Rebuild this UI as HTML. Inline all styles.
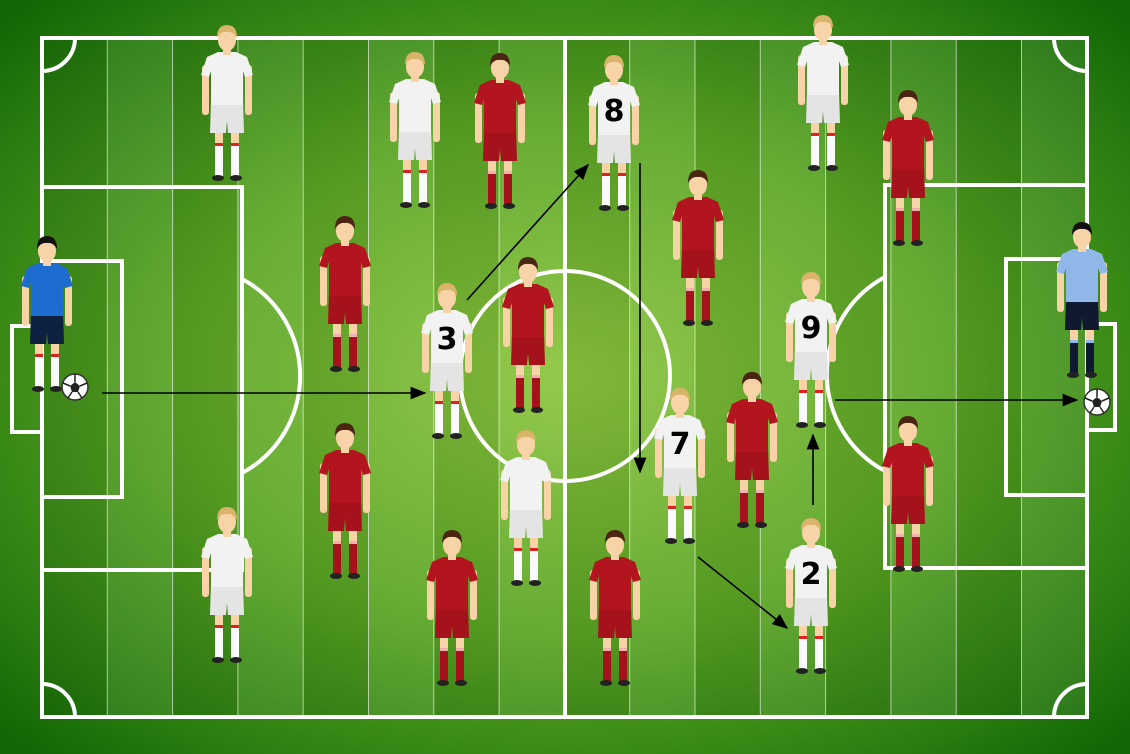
<!DOCTYPE html>
<html><head><meta charset="utf-8"><style>
html,body{margin:0;padding:0;background:#1a6b0a}
svg{display:block}
text{font-family:"DejaVu Sans","Liberation Sans",sans-serif;font-weight:bold}
</style></head><body>
<svg id="s" width="1130" height="754" viewBox="0 0 1130 754">
<defs>
<radialGradient id="bg" cx="50%" cy="50%" r="68%">
<stop offset="0" stop-color="#8cc63f"/><stop offset="0.5" stop-color="#5aa524"/><stop offset="0.85" stop-color="#2a7c10"/><stop offset="1" stop-color="#136805"/>
</radialGradient>
<marker id="ah" markerWidth="10" markerHeight="8" refX="9" refY="4" orient="auto"><path d="M0,0 L10,4 L0,8 z" fill="#000"/></marker>
</defs>
<rect x="0" y="0" width="1130" height="754" fill="url(#bg)"/>
<g id="stripes"></g>
<g fill="none" stroke="#fff" stroke-width="4">
<rect x="42" y="38" width="1045" height="679"/>
<line x1="565" y1="38" x2="565" y2="717"/>
<circle cx="565" cy="376" r="105"/>
<rect x="42" y="187" width="200" height="383"/>
<rect x="42" y="261" width="80" height="236"/>
<rect x="12" y="326" width="30" height="106"/>
<path d="M242,279 A110,110 0 0 1 242,473"/>
<rect x="885" y="185" width="202" height="383"/>
<rect x="1006" y="259" width="81" height="236"/>
<rect x="1087" y="324" width="28" height="106"/>
<path d="M885,277 A110,110 0 0 0 885,471"/>
<path d="M42,71 A33,33 0 0 0 75,38"/>
<path d="M1054,38 A33,33 0 0 0 1087,71"/>
<path d="M42,684 A33,33 0 0 1 75,717"/>
<path d="M1054,717 A33,33 0 0 1 1087,684"/>
</g>
<g id="arrows" stroke="#000" stroke-width="1.6">
<line x1="102" y1="393" x2="425" y2="393" marker-end="url(#ah)"/>
<line x1="467" y1="300" x2="588" y2="165" marker-end="url(#ah)"/>
<line x1="640" y1="163" x2="640" y2="472" marker-end="url(#ah)"/>
<line x1="698" y1="557" x2="787" y2="628" marker-end="url(#ah)"/>
<line x1="813" y1="505" x2="813" y2="435" marker-end="url(#ah)"/>
<line x1="835" y1="400" x2="1077" y2="400" marker-end="url(#ah)"/>
</g>
<g id="players"></g>
<g id="balls"></g>
</svg>
<script>
const NS="http://www.w3.org/2000/svg";
const whiteX=[227,415,614,823,447,526,811,680,811,227];
const whiteY=[25,52,55,15,283,430,272,388,518,507];
const whiteNum=["","","8","","3","","9","7","2",""];
const redX=[500,345,698,908,528,752,345,452,615,908];
const redY=[53,216,170,90,257,372,423,530,530,416];
const gkX=[47,1082];
const gkY=[236,222];
const ballX=[75,1097];
const ballY=[387,402];

function el(tag,attrs,parent){const e=document.createElementNS(NS,tag);for(const k in attrs)e.setAttribute(k,attrs[k]);parent.appendChild(e);return e;}
const st=document.getElementById('stripes');
for(let i=0;i<16;i++){
  const x=42+i*65.3;
  const r=el('rect',{x:x,y:38,width:65.3,height:679,fill:i%2?'rgba(255,255,255,0.07)':'rgba(0,0,0,0.07)'},st);
  
  
  if(i>0){el('line',{x1:x,y1:38,x2:x,y2:717,stroke:'rgba(255,255,255,0.6)','stroke-width':1},st);}
}
const pg=document.getElementById('players');
function player(cx,y0,kit,name,num){
  const g=el('g',{transform:`translate(${cx},${y0})`},pg);
  
  
  const skin='#f9d3a8';
  el('rect',{x:-25,y:40,width:7,height:50,rx:3,fill:skin},g);
  el('rect',{x:18,y:40,width:7,height:50,rx:3,fill:skin},g);
  el('rect',{x:-12,y:105,width:8,height:20,fill:skin},g);
  el('rect',{x:4,y:105,width:8,height:20,fill:skin},g);
  el('rect',{x:-12,y:118,width:8,height:33,fill:kit.sock},g);
  el('rect',{x:4,y:118,width:8,height:33,fill:kit.sock},g);
  el('rect',{x:-12,y:118,width:8,height:3,fill:kit.trim},g);
  el('rect',{x:4,y:118,width:8,height:3,fill:kit.trim},g);
  el('ellipse',{cx:-9,cy:153,rx:6,ry:3,fill:'#222'},g);
  el('ellipse',{cx:9,cy:153,rx:6,ry:3,fill:'#222'},g);
  el('path',{d:'M-16,76 L16,76 L17,108 L1,108 L0,96 L-1,108 L-17,108 Z',fill:kit.shorts},g);
  el('path',{d:'M-9,27 L9,27 L20,32 L26,50 L18,52 L16,46 L16,80 L-16,80 L-16,46 L-18,52 L-26,50 L-20,32 Z',fill:kit.shirt},g);
  el('rect',{x:-4,y:22,width:8,height:8,fill:skin},g);
  el('ellipse',{cx:0,cy:15,rx:9,ry:11,fill:skin},g);
  el('path',{d:'M-10,13 Q-10,0 0,0 Q10,0 10,13 Q6,6 0,7 Q-6,6 -10,13 Z',fill:kit.hair},g);
  if(num){const t=el('text',{x:0,y:66,'text-anchor':'middle','font-size':30,fill:'#000'},g);t.textContent=num;}
}
const white={shirt:'#f2f2f2',shorts:'#e4e4e4',sock:'#fafafa',trim:'#d22',hair:'#d9b46a'};
const red={shirt:'#b3151f',shorts:'#a5121b',sock:'#a5121b',trim:'#f3b0b0',hair:'#4a2612'};
const gk1={shirt:'#1e6ccf',shorts:'#0f2140',sock:'#fafafa',trim:'#d22',hair:'#111'};
const gk2={shirt:'#8fb8e8',shorts:'#0f1a30',sock:'#0f1a30',trim:'#8fb8e8',hair:'#111'};
for(let i=0;i<whiteX.length;i++)player(whiteX[i],whiteY[i],white,'white-player-'+(i+1),whiteNum[i]);
for(let i=0;i<redX.length;i++)player(redX[i],redY[i],red,'red-player-'+(i+1),'');
player(gkX[0],gkY[0],gk1,'left-goalkeeper','');
player(gkX[1],gkY[1],gk2,'right-goalkeeper','');
const bg=document.getElementById('balls');
for(let i=0;i<ballX.length;i++){
  const b=el('g',{transform:`translate(${ballX[i]},${ballY[i]})`},bg);
  
  
  el('circle',{r:13,fill:'#fff',stroke:'#333','stroke-width':1.5},b);
  el('polygon',{points:'0,-5 5,-1 3,5 -3,5 -5,-1',fill:'#222'},b);
  el('path',{d:'M0,-13 L0,-5 M5,-1 L12,-4 M3,5 L7,11 M-3,5 L-7,11 M-5,-1 L-12,-4',stroke:'#222','stroke-width':1.5},b);
}
</script>
</body></html>
